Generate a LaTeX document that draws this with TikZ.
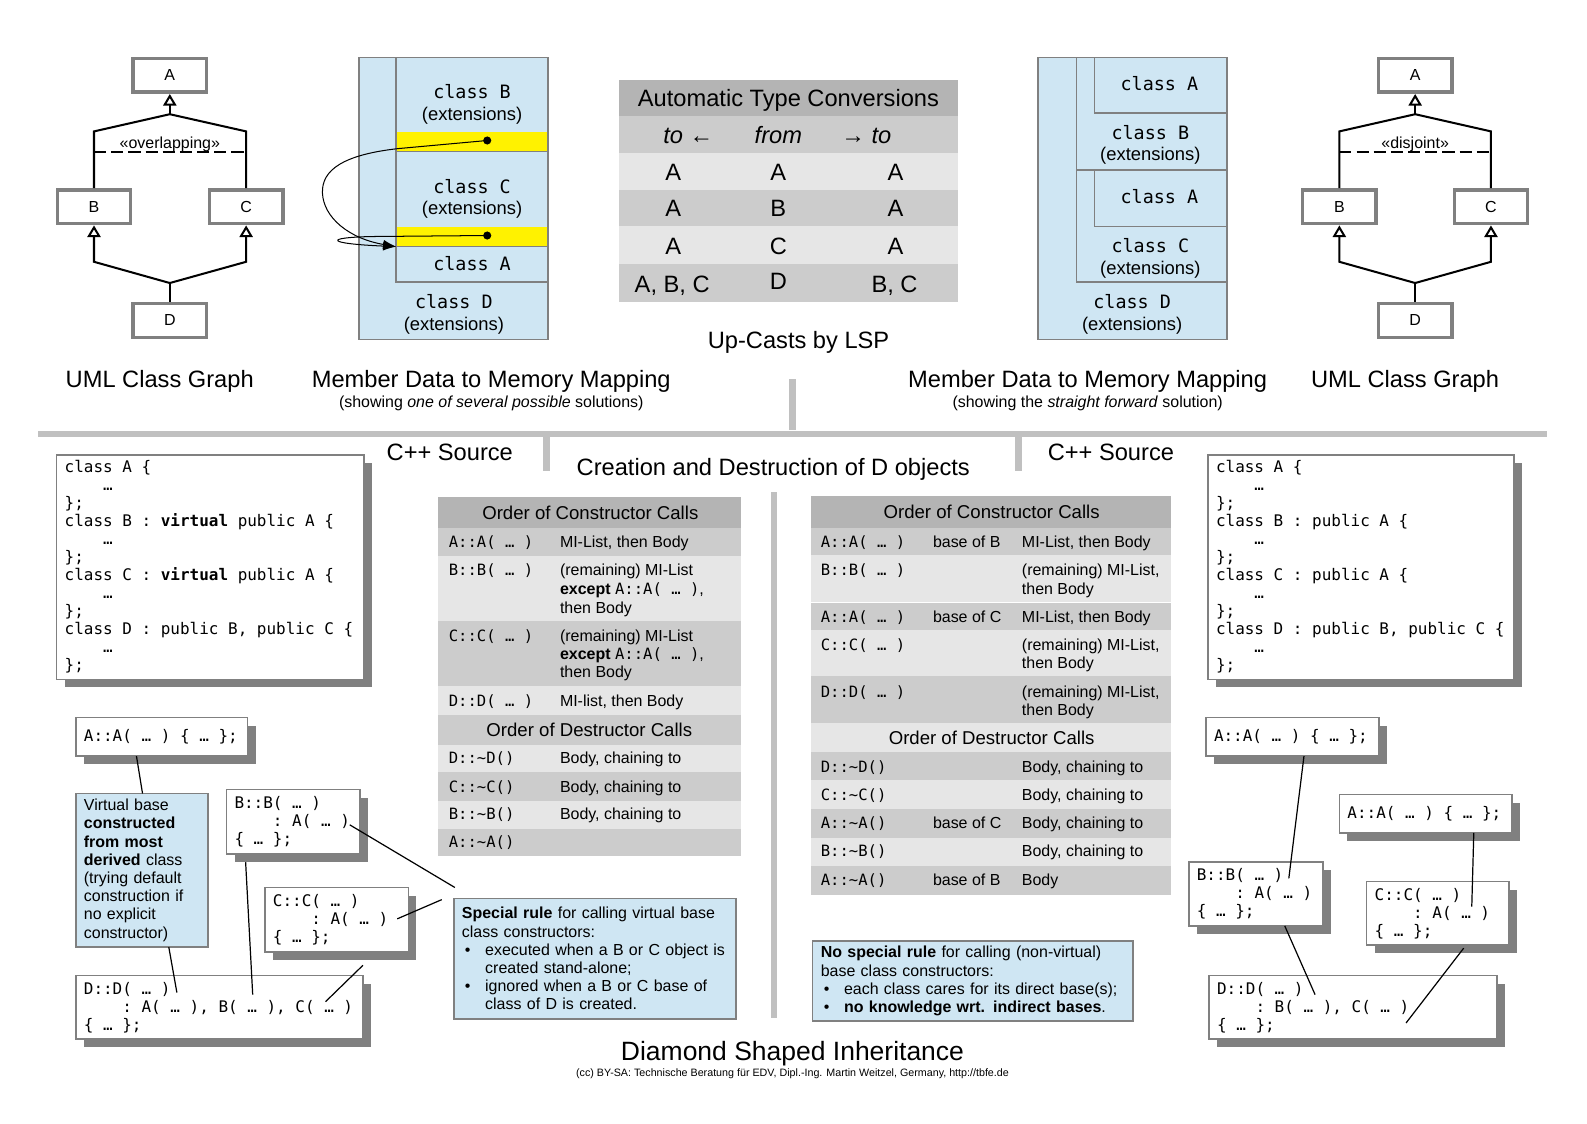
\documentclass[tikz,border=0pt]{standalone}
\usepackage{fontspec}
\setmainfont{Liberation Sans}
\newfontfamily\monofont{DejaVu Sans Mono}
\usetikzlibrary{arrows.meta,shadows}
\definecolor{bluefill}{RGB}{207,230,243}
\definecolor{bordergray}{RGB}{128,128,128}
\definecolor{hdrgray}{RGB}{180,180,180}
\definecolor{darkrow}{RGB}{204,204,204}
\definecolor{lightrow}{RGB}{230,230,230}
\definecolor{sepgray}{RGB}{192,192,192}
\definecolor{shadowgray}{RGB}{128,128,128}
\newcommand\fBig{\fontsize{11.7}{14}\selectfont}
\newcommand\fHugeT{\fontsize{13.1}{15}\selectfont}
\newcommand\fHead{\fontsize{9.2}{11}\selectfont}
\newcommand\fText{\fontsize{7.9}{9}\selectfont}
\newcommand\fSmallT{\fontsize{7.9}{9}\selectfont}
\newcommand\fTinyT{\fontsize{5.3}{6}\selectfont}
\newcommand\fMem{\monofont\fontsize{9.1}{11}\selectfont}
\newcommand\fMemx{\fontsize{9.1}{11}\selectfont}
\newcommand\fCode{\monofont\fontsize{7.9}{8.9}\selectfont}
\newcommand\tcode[1]{{\monofont\fontsize{7.7}{8.9}\selectfont #1}}
\newcommand\sq{\hspace*{0.602em}}
\newcommand\bul{\hspace*{1.5pt}\makebox[10pt][l]{•}}
\newcommand\bulsp{\hspace*{11.5pt}}
\begin{document}
\begin{tikzpicture}[x=0.5pt,y=-0.5pt,
 every node/.style={inner sep=0pt,outer sep=0pt},
 umlbox/.style={draw=bordergray,line width=1.75pt,minimum width=36.25pt,minimum height=16.75pt,outer sep=0.875pt,font=\fText},
 umlline/.style={line width=1pt,draw=black},
 gen/.style={-{Triangle[open,length=5.75pt,width=6.5pt]}},
 umldash/.style={line width=1pt,dash pattern=on 6pt off 2.5pt},
 memline/.style={draw=bordergray,line width=0.75pt},
 ptr/.style={line width=0.5pt,-{Latex[length=6.5pt,width=4.5pt]}},
 tbig/.style={font=\fBig,text height=8.4pt,text depth=0pt},
 thuge/.style={font=\fHugeT,text height=9.4pt,text depth=0pt},
 thead/.style={font=\fHead,text height=6.6pt,text depth=0pt},
 ttxt/.style={font=\fText,text height=5.7pt,text depth=0pt},
 tsmall/.style={font=\fSmallT,text height=5.7pt,text depth=0pt},
 ttiny/.style={font=\fTinyT,text height=3.8pt,text depth=0pt},
 tmem/.style={font=\fMem,text height=6.6pt,text depth=0pt},
 tmemx/.style={font=\fMemx,text height=6.6pt,text depth=0pt},
 cellt/.style={ttxt,anchor=west},
 cellc/.style={font=\monofont\fontsize{7.7}{8.9}\selectfont,text height=5.6pt,text depth=0pt,anchor=west},
 codebox/.style={draw=bordergray,line width=0.75pt,fill=white,align=left,font=\fCode,inner xsep=4pt,anchor=north west,
   drop shadow={shadow xshift=4pt,shadow yshift=-4pt,fill=shadowgray,opacity=1}},
 note/.style={draw=bordergray,line width=0.75pt,fill=bluefill,align=left,font=\fontsize{7.9}{9}\selectfont,inner xsep=4pt,anchor=north west},
 conn/.style={line width=0.6pt,draw=black}
]
\useasboundingbox[fill=white] (0,0) rectangle (1570,1111);

% ---------------- left UML ----------------
\node[umlbox] (A1) at (168,74.5) {A};
\node[umlbox] (B1) at (93,204.5) {B};
\node[umlbox] (C1) at (243.5,204.5) {C};
\node[umlbox] (D1) at (168,317) {D};
\coordinate (jA1) at (168,113);
\coordinate (jD1) at (168,280);
\draw[umlline] (B1.north) -- (B1.north |- 0,130) -- (jA1) -- (C1.north |- 0,130) -- (C1.north);
\draw[umlline,gen] (jA1) -- (A1.south);
\draw[umldash] (B1.north |- 0,150) -- (C1.north |- 0,150);
\node[ttxt] (ov1) at (168,141) {«overlapping»};
\draw[umlline] (D1.north) -- (jD1);
\draw[umlline,gen] (jD1) -- (B1.south |- 0,259) -- (B1.south);
\draw[umlline,gen] (jD1) -- (C1.south |- 0,259) -- (C1.south);
\node[tbig] (capL1) at (158,375) {UML Class Graph};

% ---------------- right UML ----------------
\node[umlbox] (A2) at (1400,74.5) {A};
\node[umlbox] (B2) at (1325,204.5) {B};
\node[umlbox] (C2) at (1475,204.5) {C};
\node[umlbox] (D2) at (1400,317) {D};
\coordinate (jA2) at (1400,113);
\coordinate (jD2) at (1400,280);
\draw[umlline] (B2.north) -- (B2.north |- 0,130) -- (jA2) -- (C2.north |- 0,130) -- (C2.north);
\draw[umlline,gen] (jA2) -- (A2.south);
\draw[umldash] (B2.north |- 0,150) -- (C2.north |- 0,150);
\node[ttxt] (ov2) at (1400,141) {«disjoint»};
\draw[umlline] (D2.north) -- (jD2);
\draw[umlline,gen] (jD2) -- (B2.south |- 0,259) -- (B2.south);
\draw[umlline,gen] (jD2) -- (C2.south |- 0,259) -- (C2.south);
\node[tbig] (capR1) at (1390,375) {UML Class Graph};

% ---------------- left memory mapping ----------------
\fill[bluefill] (355,57) rectangle (542,336);
\fill[yellow] (392,131) rectangle (542,150);
\fill[yellow] (392,225) rectangle (542,244);
\draw[memline] (355,57) rectangle (542,336);
\draw[memline] (392,57) -- (392,279) -- (542,279);
\draw[memline] (392,150) -- (542,150);
\draw[memline] (392,244) -- (542,244);
\node[tmem] (mlB) at (467,91) {class\sq B};
\node[tmemx] (mlBx) at (467,113) {(extensions)};
\node[tmem] (mlC) at (467,185) {class\sq C};
\node[tmemx] (mlCx) at (467,206) {(extensions)};
\node[tmem] (mlA) at (467,261) {class\sq A};
\node[tmem] (mlD) at (449,299) {class\sq D};
\node[tmemx] (mlDx) at (449,320) {(extensions)};
\coordinate (pB) at (482,139);
\coordinate (pC) at (482,233);
\coordinate (pA) at (392,244);
\fill (pB) circle[radius=2pt];
\fill (pC) circle[radius=2pt];
\draw[ptr] (pB) -- (394,147) .. controls (340,153) and (318,168) .. (319,191) .. controls (320,215) and (345,236) .. (pA);
\draw[ptr] (pC) -- (368,234) .. controls (320,235) and (322,241) .. (pA);
\node[tbig] (capL2) at (486,375) {Member Data to Memory Mapping};
\node[tsmall] (capL3) at (486,397) {(showing \textit{one of several possible} solutions)};

% ---------------- center table ----------------
\fill[hdrgray] (612,79) rectangle (948,115);
\fill[darkrow] (612,115) rectangle (948,151);
\fill[lightrow] (612,151) rectangle (948,188);
\fill[darkrow] (612,188) rectangle (948,224);
\fill[lightrow] (612,224) rectangle (948,261);
\fill[darkrow] (612,261) rectangle (948,299);
\node[tbig] (tH) at (780,97) {Automatic Type Conversions};
\node[tbig] (t21) at (681,134) {\textit{to} ←};
\node[tbig] (t22) at (770,134) {\textit{from}};
\node[tbig] (t23) at (857,134) {→ \textit{to}};
\node[tbig] (t31) at (666,170) {A};
\node[tbig] (t32) at (770,170) {A};
\node[tbig] (t33) at (886,170) {A};
\node[tbig] (t41) at (666,206) {A};
\node[tbig] (t42) at (770,206) {B};
\node[tbig] (t43) at (886,206) {A};
\node[tbig] (t51) at (666,243) {A};
\node[tbig] (t52) at (770,243) {C};
\node[tbig] (t53) at (886,243) {A};
\node[tbig] (t61) at (665,281) {A, B, C};
\node[tbig] (t62) at (770,278) {D};
\node[tbig] (t63) at (885,281) {B, C};
\node[tbig] (capC) at (790,336) {Up-Casts by LSP};

% ---------------- right memory mapping ----------------
\fill[bluefill] (1027,57) rectangle (1214,336);
\draw[memline] (1027,57) rectangle (1214,336);
\draw[memline] (1065,57) -- (1065,279) -- (1214,279);
\draw[memline] (1083,57) -- (1083,112) -- (1214,112);
\draw[memline] (1065,168) -- (1214,168);
\draw[memline] (1083,168) -- (1083,224) -- (1214,224);
\node[tmem] (mrA1) at (1147,83) {class\sq A};
\node[tmem] (mrB) at (1138,131) {class\sq B};
\node[tmemx] (mrBx) at (1138,152) {(extensions)};
\node[tmem] (mrA2) at (1147,195) {class\sq A};
\node[tmem] (mrC) at (1138,243) {class\sq C};
\node[tmemx] (mrCx) at (1138,265) {(extensions)};
\node[tmem] (mrD) at (1120,299) {class\sq D};
\node[tmemx] (mrDx) at (1120,320) {(extensions)};
\node[tbig] (capR2) at (1076,375) {Member Data to Memory Mapping};
\node[tsmall] (capR3) at (1076,397) {(showing the \textit{straight forward} solution)};

% ---------------- separators ----------------
\fill[sepgray] (781,375) rectangle (787,425);
\fill[sepgray] (38,426) rectangle (1530,432);
\fill[sepgray] (537,432) rectangle (544,466);
\fill[sepgray] (1004,432) rectangle (1011,466);
\fill[sepgray] (763,487) rectangle (769,1007);
\node[tbig] (srcT1) at (445,447) {C++ Source};
\node[tbig] (srcT2) at (1099,447) {C++ Source};
\node[tbig] (cdT) at (765,462) {Creation and Destruction of D objects};

% ---------------- left table ----------------
\fill[hdrgray] (433,492) rectangle (733,522);
\fill[darkrow] (433,522) rectangle (733,550);
\fill[lightrow] (433,550) rectangle (733,614);
\fill[darkrow] (433,614) rectangle (733,679);
\fill[lightrow] (433,679) rectangle (733,707);
\fill[darkrow] (433,707) rectangle (733,737);
\fill[lightrow] (433,737) rectangle (733,764);
\fill[darkrow] (433,764) rectangle (733,792);
\fill[lightrow] (433,792) rectangle (733,820);
\fill[darkrow] (433,820) rectangle (733,847);
\node[thead] (lc0) at (584,507) {Order of Constructor Calls};
\node[cellc] (lc1a) at (444,536) {A::A(\sq…\sq)};
\node[cellt] (lc1b) at (554,536) {MI-List, then Body};
\node[cellc] (lc2a) at (444,564) {B::B(\sq…\sq)};
\node[cellt] (lc2b) at (554,564) {(remaining) MI-List};
\node[cellt] (lc2c) at (554,582) {\textbf{except} \tcode{A::A(\sq…\sq)},};
\node[cellt] (lc2d) at (554,601) {then Body};
\node[cellc] (lc3a) at (444,629) {C::C(\sq…\sq)};
\node[cellt] (lc3b) at (554,629) {(remaining) MI-List};
\node[cellt] (lc3c) at (554,647) {\textbf{except} \tcode{A::A(\sq…\sq)},};
\node[cellt] (lc3d) at (554,665) {then Body};
\node[cellc] (lc4a) at (444,693) {D::D(\sq…\sq)};
\node[cellt] (lc4b) at (554,693) {MI-list, then Body};
\node[thead] (ld0) at (583,722) {Order of Destructor Calls};
\node[cellc] (ld1a) at (444,750) {D::\textasciitilde D()};
\node[cellt] (ld1b) at (554,750) {Body, chaining to};
\node[cellc] (ld2a) at (444,778) {C::\textasciitilde C()};
\node[cellt] (ld2b) at (554,778) {Body, chaining to};
\node[cellc] (ld3a) at (444,805) {B::\textasciitilde B()};
\node[cellt] (ld3b) at (554,805) {Body, chaining to};
\node[cellc] (ld4a) at (444,833) {A::\textasciitilde A()};

% ---------------- right table ----------------
\fill[hdrgray] (802,491) rectangle (1158,522);
\fill[darkrow] (802,522) rectangle (1158,549);
\fill[lightrow] (802,549) rectangle (1158,596);
\fill[darkrow] (802,596) rectangle (1158,623);
\fill[lightrow] (802,623) rectangle (1158,669);
\fill[darkrow] (802,669) rectangle (1158,715);
\fill[lightrow] (802,715) rectangle (1158,744);
\fill[darkrow] (802,744) rectangle (1158,772);
\fill[lightrow] (802,772) rectangle (1158,800);
\fill[darkrow] (802,800) rectangle (1158,829);
\fill[lightrow] (802,829) rectangle (1158,857);
\fill[darkrow] (802,857) rectangle (1158,885);
\draw[white,line width=0.5pt] (802,596) -- (1158,596);
\node[thead] (rc0) at (981,506) {Order of Constructor Calls};
\node[cellc] (rc1a) at (812,536) {A::A(\sq…\sq)};
\node[cellt] (rc1b) at (923,536) {base of B};
\node[cellt] (rc1c) at (1011,536) {MI-List, then Body};
\node[cellc] (rc2a) at (812,564) {B::B(\sq…\sq)};
\node[cellt] (rc2c) at (1011,564) {(remaining) MI-List,};
\node[cellt] (rc2d) at (1011,582) {then Body};
\node[cellc] (rc3a) at (812,610) {A::A(\sq…\sq)};
\node[cellt] (rc3b) at (923,610) {base of C};
\node[cellt] (rc3c) at (1011,610) {MI-List, then Body};
\node[cellc] (rc4a) at (812,638) {C::C(\sq…\sq)};
\node[cellt] (rc4c) at (1011,638) {(remaining) MI-List,};
\node[cellt] (rc4d) at (1011,656) {then Body};
\node[cellc] (rc5a) at (812,684) {D::D(\sq…\sq)};
\node[cellt] (rc5c) at (1011,684) {(remaining) MI-List,};
\node[cellt] (rc5d) at (1011,702) {then Body};
\node[thead] (rd0) at (981,730) {Order of Destructor Calls};
\node[cellc] (rd1a) at (812,759) {D::\textasciitilde D()};
\node[cellt] (rd1c) at (1011,759) {Body, chaining to};
\node[cellc] (rd2a) at (812,786) {C::\textasciitilde C()};
\node[cellt] (rd2c) at (1011,786) {Body, chaining to};
\node[cellc] (rd3a) at (812,814) {A::\textasciitilde A()};
\node[cellt] (rd3b) at (923,814) {base of C};
\node[cellt] (rd3c) at (1011,814) {Body, chaining to};
\node[cellc] (rd4a) at (812,842) {B::\textasciitilde B()};
\node[cellt] (rd4c) at (1011,842) {Body, chaining to};
\node[cellc] (rd5a) at (812,870) {A::\textasciitilde A()};
\node[cellt] (rd5b) at (923,870) {base of B};
\node[cellt] (rd5c) at (1011,870) {Body};

% ---------------- code boxes ----------------
\node[codebox,text width=144pt,minimum height=111pt] (srcL) at (56,450) {%
class\sq A\sq\{\\\sq\sq\sq\sq…\\\};\\class\sq B\sq:\sq\textbf{virtual}\sq public\sq A\sq\{\\\sq\sq\sq\sq…\\\};\\class\sq C\sq:\sq\textbf{virtual}\sq public\sq A\sq\{\\\sq\sq\sq\sq…\\\};\\class\sq D\sq:\sq public\sq B,\sq public\sq C\sq\{\\\sq\sq\sq\sq…\\\};};
\node[codebox,text width=143.5pt,minimum height=111pt] (srcR) at (1195,450) {%
class\sq A\sq\{\\\sq\sq\sq\sq…\\\};\\class\sq B\sq:\sq public\sq A\sq\{\\\sq\sq\sq\sq…\\\};\\class\sq C\sq:\sq public\sq A\sq\{\\\sq\sq\sq\sq…\\\};\\class\sq D\sq:\sq public\sq B,\sq public\sq C\sq\{\\\sq\sq\sq\sq…\\\};};

% ---------------- left bottom ----------------
\node[codebox,text width=77pt,minimum height=19pt] (aaL) at (75,710) {A::A(\sq…\sq)\sq\{\sq…\sq\};};
\node[note,text width=57.5pt,minimum height=76pt] (vnote) at (75,785) {Virtual base\\\textbf{constructed}\\\textbf{from most}\\\textbf{derived} class\\(trying default\\construction if\\no explicit\\constructor)};
\node[codebox,text width=58pt,minimum height=32pt] (bbL) at (224,781) {B::B(\sq…\sq)\\\sq\sq\sq\sq:\sq A(\sq…\sq)\\\{\sq…\sq\};};
\node[codebox,text width=63pt,minimum height=32pt] (ccL) at (262,878) {C::C(\sq…\sq)\\\sq\sq\sq\sq:\sq A(\sq…\sq)\\\{\sq…\sq\};};
\node[codebox,text width=134pt,minimum height=31.5pt] (ddL) at (75,965) {D::D(\sq…\sq)\\\sq\sq\sq\sq:\sq A(\sq…\sq),\sq B(\sq…\sq),\sq C(\sq…\sq)\\\{\sq…\sq\};};
\node[note,text width=131.5pt,minimum height=59.5pt] (sr) at (449,889) {\textbf{Special rule} for calling virtual base\\class constructors:\\\bul executed when a B or C object is\\\bulsp created stand-alone;\\\bul ignored when a B or C base of\\\bulsp class of D is created.};
\coordinate (dAx) at (175,982);
\coordinate (dBx) at (250,984);
\coordinate (dCx) at (322,991);
\coordinate (bLs) at (243,853);
\coordinate (cLs) at (359,955);
\coordinate (bAx) at (346,816);
\coordinate (cAx) at (393,909);
\coordinate (srA) at (450,878);
\coordinate (srB) at (437,890);
\draw[conn] (aaL.south -| 135,0) -- (vnote.north -| 141,0);
\draw[conn] (vnote.south -| 167,0) -- (dAx);
\draw[conn] (bLs) -- (dBx);
\draw[conn] (cLs) -- (dCx);
\draw[conn] (bAx) -- (srA);
\draw[conn] (cAx) -- (srB);

% ---------------- right bottom ----------------
\node[codebox,text width=77.5pt,minimum height=19pt] (aaR1) at (1193,710) {A::A(\sq…\sq)\sq\{\sq…\sq\};};
\node[codebox,text width=77.5pt,minimum height=19pt] (aaR2) at (1325,786) {A::A(\sq…\sq)\sq\{\sq…\sq\};};
\node[codebox,text width=58.5pt,minimum height=31.5pt] (bbR) at (1176,853) {B::B(\sq…\sq)\\\sq\sq\sq\sq:\sq A(\sq…\sq)\\\{\sq…\sq\};};
\node[codebox,text width=62.5pt,minimum height=31.5pt] (ccR) at (1352,872) {C::C(\sq…\sq)\\\sq\sq\sq\sq:\sq A(\sq…\sq)\\\{\sq…\sq\};};
\node[codebox,text width=134.5pt,minimum height=31.5pt] (ddR) at (1196,965) {D::D(\sq…\sq)\\\sq\sq\sq\sq:\sq B(\sq…\sq),\sq C(\sq…\sq)\\\{\sq…\sq\};};
\node[note,text width=150.5pt,minimum height=39.5pt] (nsr) at (804,931) {\textbf{No special rule} for calling (non-virtual)\\base class constructors:\\\bul each class cares for its direct base(s);\\\bul \textbf{no knowledge wrt. indirect bases}.};
\coordinate (bRa) at (1275,869);
\coordinate (cRa) at (1456,897);
\coordinate (dRb) at (1301,984);
\coordinate (dRc) at (1391,1012);
\coordinate (cRs) at (1448,938);
\draw[conn] (aaR1.south -| 1290,0) -- (bRa);
\draw[conn] (aaR2.south -| 1458,0) -- (cRa);
\draw[conn] (bbR.south -| 1271,0) -- (dRb);
\draw[conn] (cRs) -- (dRc);

% ---------------- footer ----------------
\node[thuge] (title) at (784,1040) {Diamond Shaped Inheritance};
\node[ttiny] (copy) at (784,1061) {(cc) BY-SA: Technische Beratung für EDV, Dipl.-Ing. Martin Weitzel, Germany, http://tbfe.de};
\end{tikzpicture}
\end{document}
